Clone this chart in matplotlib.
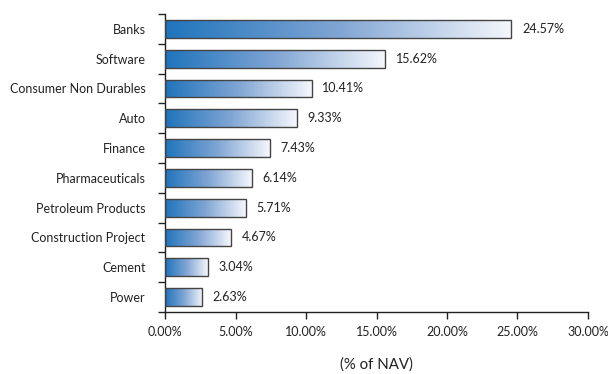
import numpy as np
import matplotlib.pyplot as plt
from matplotlib.colors import LinearSegmentedColormap
from matplotlib.patches import Rectangle
from matplotlib.ticker import FixedLocator, FuncFormatter

# Sector allocation (% of NAV)
sectores = ["Banks", "Software", "Consumer Non Durables", "Auto", "Finance",
            "Pharmaceuticals", "Petroleum Products", "Construction Project",
            "Cement", "Power"]
pesos = [24.57, 15.62, 10.41, 9.33, 7.43, 6.14, 5.71, 4.67, 3.04, 2.63]
ticks_x = [0, 5, 10, 15, 20, 25, 30]

plt.rcParams['font.family'] = ['Lato', 'DejaVu Sans']
fs = 9.0

fig = plt.figure(figsize=(6.08, 3.74), dpi=100)
ax = fig.add_axes([0.2714, 0.1658, 0.6957, 0.7968])

degradado = LinearSegmentedColormap.from_list(
    "azul", ["#1f74bc", "#80a5d4", "#f5f7fc"])
grad = np.linspace(0, 1, 256).reshape(1, -1)

n = len(sectores)
alto = 0.6
for i, (nombre, val) in enumerate(zip(sectores, pesos)):
    y = n - 1 - i
    img = ax.imshow(grad, cmap=degradado, aspect="auto",
                    extent=[0, val, y - alto / 2, y + alto / 2], zorder=2)
    borde = Rectangle((0, y - alto / 2), val, alto, fill=False,
                      edgecolor="#444444", linewidth=1.0, zorder=3)
    ax.add_patch(borde)
    img.set_clip_path(borde)
    ax.text(val + 0.75, y, f"{val:.2f}%", va="center", ha="left",
            fontsize=fs, color="#222222")

ax.set_xlim(0, 30)
ax.set_ylim(-0.5, n - 0.5)

ax.xaxis.set_major_locator(FixedLocator(ticks_x))
ax.xaxis.set_major_formatter(FuncFormatter(lambda v, p: f"{v:.2f}%"))
ax.tick_params(axis="x", direction="out", length=5, width=1, color="#222222",
               labelsize=fs, pad=5, labelcolor="#222222")

ax.set_yticks(range(n))
ax.set_yticklabels(sectores[::-1])
ax.yaxis.set_minor_locator(FixedLocator(np.arange(-0.5, n, 1.0)))
ax.tick_params(axis="y", which="major", length=0, pad=14, labelsize=fs,
               labelcolor="#222222")
ax.tick_params(axis="y", which="minor", direction="out", length=5, width=1,
               color="#222222")

for lado in ["top", "right"]:
    ax.spines[lado].set_visible(False)
for lado in ["left", "bottom"]:
    ax.spines[lado].set_color("#222222")
    ax.spines[lado].set_linewidth(1)

ax.set_xlabel("(% of NAV)", fontsize=10.8, labelpad=14, color="#222222")

fig.savefig("out.png", dpi=100)
